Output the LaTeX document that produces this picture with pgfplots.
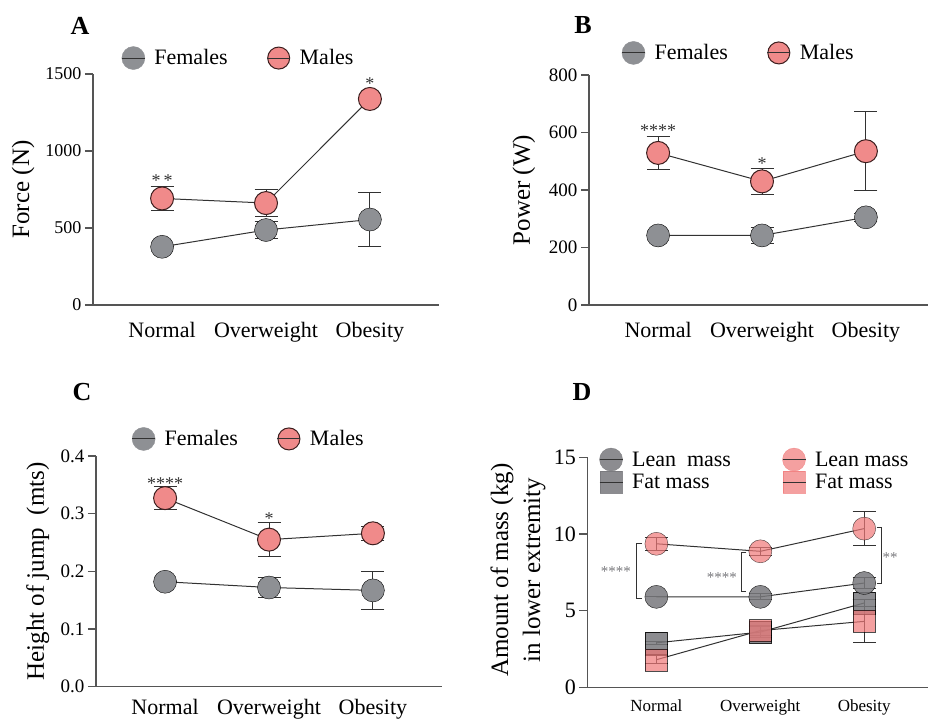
\documentclass[border=0pt]{standalone}
\usepackage{fontspec}
\setmainfont{Liberation Serif}
\usepackage{pgfplots}
\pgfplotsset{compat=1.18}
\definecolor{fgray}{RGB}{142,144,148}
\definecolor{fred}{RGB}{240,138,138}
\definecolor{mdark}{RGB}{60,30,30}
\definecolor{ldark}{RGB}{50,50,50}
\definecolor{axgray}{RGB}{85,85,85}
\definecolor{dgray}{RGB}{120,120,124}
\definecolor{dred}{RGB}{240,120,120}
\newcommand{\fs}[1]{\fontsize{#1}{#1}\selectfont}
\tikzset{sigstar/.style={anchor=base, yshift=-9pt, font=\fs{18}, text=ldark}}

\pgfplotsset{
 base/.style={
  scale only axis, axis lines=left, axis line style={-, line width=1.4pt, color=axgray},
  xmin=-0.665, xmax=2.665, width=346pt, xtick={0,1,2}, xticklabels={Normal,Overweight,Obesity},
  xtick style={draw=none}, ytick style={line width=1.4pt, color=axgray},
  tick align=outside, major tick length=8pt,
  /pgf/number format/assume math mode=true,
  /pgf/number format/1000 sep={},
  clip=false,
  legend columns=2,
  legend cell align=left,
  legend style={draw=none, fill=none, inner sep=0pt, outer sep=0pt, anchor=west, font=\fs{22},
    /tikz/every odd column/.append style={column sep=7pt},
    /tikz/every even column/.append style={column sep=37pt}},
  xticklabel style={font=\fs{22}, yshift=-6pt},
  y label style={anchor=center, font=\fs{25}},
 },
 fline/.style={ldark, line width=1pt, mark=none, forget plot,
   error bars/y dir=both, error bars/y explicit,
   error bars/error bar style={line width=1pt, color=ldark},
   error bars/error mark options={rotate=90, mark size=11.5pt, line width=1pt, color=ldark}},
 fmark/.style={only marks, mark=*, mark size=11.5pt, forget plot, mark options={fill=fgray, draw=none}},
 mmark/.style={only marks, mark=*, mark size=11.5pt, forget plot, mark options={fill=fred, draw=mdark, line width=1pt}},
 legF/.style={legend image code/.code={\fill[fgray] (11.5pt,0pt) circle[radius=11.5pt]; \draw[ldark, line width=1pt] (0pt,0pt)--(23pt,0pt);}},
 legM/.style={legend image code/.code={\draw[fill=fred, draw=mdark, line width=1pt] (11.5pt,0pt) circle[radius=11pt]; \draw[ldark, line width=1pt] (0pt,0pt)--(23pt,0pt);}},
}

\begin{document}
\begin{tikzpicture}
\useasboundingbox (0pt,0pt) rectangle (928pt,-720pt);

% ---------------- A ----------------
\begin{axis}[base, at={(93pt,-305pt)}, anchor=south west, height=231pt,
  ymin=0, ymax=1500, ytick={0,500,1000,1500}, yticklabel style={font=\fs{18}},
  ylabel={Force (N)}, y label style={at={(axis description cs:-0.202,0.5)}},
  legend style={at={(axis description cs:0.082,1.069)}}]
\addlegendimage{legF}\addlegendentry{Females}
\addlegendimage{legM}\addlegendentry{Males}
\addplot[fmark] coordinates {(0,378) (1,487) (2,555)};
\addplot[fline] coordinates {(0,378) +- (0,0) (1,487) +- (0,57) (2,555) +- (0,175)};
\addplot[mmark] coordinates {(0,692) (1,662) (2,1338)};
\addplot[fline] coordinates {(0,692) +- (0,80) (1,662) +- (0,85) (2,1338) +- (0,0)};
\node[sigstar] at (axis cs:0,825) {*\,*};
\node[sigstar] at (axis cs:2,1461) {*};
\end{axis}

% ---------------- B ----------------
\begin{axis}[base, at={(589pt,-305pt)}, anchor=south west, height=230pt,
  ymin=0, ymax=800, ytick={0,200,400,600,800}, yticklabel style={font=\fs{19}},
  ylabel={Power (W)}, y label style={at={(axis description cs:-0.188,0.5)}},
  legend style={at={(axis description cs:0.094,1.096)}}]
\addlegendimage{legF}\addlegendentry{Females}
\addlegendimage{legM}\addlegendentry{Males}
\addplot[fmark] coordinates {(0,242) (1,242) (2,305)};
\addplot[fline] coordinates {(0,242) +- (0,0) (1,242) +- (0,28) (2,305) +- (0,13)};
\addplot[mmark] coordinates {(0,529) (1,430) (2,535)};
\addplot[fline] coordinates {(0,529) +- (0,58) (1,430) +- (0,46) (2,535) +- (0,137)};
\node[sigstar] at (axis cs:0,619) {****};
\node[sigstar] at (axis cs:1,504) {*};
\end{axis}

% ---------------- C ----------------
\begin{axis}[base, at={(96pt,-686.7pt)}, anchor=south west, height=230.7pt,
  ymin=0, ymax=0.4, ytick={0,0.1,0.2,0.3,0.4}, yticklabel style={font=\fs{19}, /pgf/number format/.cd, fixed, fixed zerofill, precision=1},
  xticklabel style={yshift=5pt},
  ylabel={Height of jump\ \ (mts)}, y label style={at={(axis description cs:-0.168,0.5)}},
  legend style={at={(axis description cs:0.103,1.074)}}]
\addlegendimage{legF}\addlegendentry{Females}
\addlegendimage{legM}\addlegendentry{Males}
\addplot[fmark] coordinates {(0,0.182) (1,0.172) (2,0.167)};
\addplot[fline] coordinates {(0,0.182) +- (0,0) (1,0.172) +- (0,0.018) (2,0.167) +- (0,0.033)};
\addplot[mmark] coordinates {(0,0.327) (1,0.255) (2,0.266)};
\addplot[fline] coordinates {(0,0.327) +- (0,0.02) (1,0.255) +- (0,0.029) (2,0.266) +- (0,0.012)};
\node[sigstar] at (axis cs:0,0.358) {****};
\node[sigstar] at (axis cs:1,0.296) {*};
\end{axis}

% ---------------- D ----------------
\begin{axis}[base, at={(587.3pt,-687.3pt)}, anchor=south west, height=230pt,
  ymin=0, ymax=15, ytick={0,5,10,15}, yticklabel style={font=\fs{22}},
  xticklabel style={font=\fs{17}, yshift=5pt},
  ylabel={Amount of mass (kg)\\in lower extremity},
  y label style={at={(axis description cs:-0.2,0.51)}, align=center, font=\fontsize{25}{32}\selectfont},
  legend style={at={(axis description cs:0.034,1.041)}, anchor=north west,
    /tikz/every even column/.append style={column sep=49pt}},
  ]
\addlegendimage{legend image code/.code={\fill[dgray, opacity=0.85] (11.5pt,0pt) circle[radius=11.5pt]; \draw[ldark, line width=1pt] (0pt,0pt)--(23pt,0pt);}}
\addlegendentry{Lean\ \ mass}
\addlegendimage{legend image code/.code={\fill[dred, opacity=0.7] (11.5pt,0pt) circle[radius=11.5pt]; \draw[ldark, line width=1pt] (0pt,0pt)--(23pt,0pt);}}
\addlegendentry{Lean mass}
\addlegendimage{legend image code/.code={\fill[dgray, opacity=0.85] (0.5pt,-11pt) rectangle (22.5pt,11pt); \draw[ldark, line width=1pt] (0pt,0pt)--(23pt,0pt);}}
\addlegendentry{Fat mass}
\addlegendimage{legend image code/.code={\fill[dred, opacity=0.7] (0.5pt,-11pt) rectangle (22.5pt,11pt); \draw[ldark, line width=1pt] (0pt,0pt)--(23pt,0pt);}}
\addlegendentry{Fat mass}
% squares (fat mass)
\addplot[only marks, mark=square*, mark size=11pt, forget plot, mark options={fill=dgray, draw=none, opacity=0.85}] coordinates {(0,2.9) (1,3.6) (2,5.5)};
\addplot[only marks, mark=square*, mark size=11pt, forget plot, mark options={fill=dred, draw=none, opacity=0.7}] coordinates {(0,1.8) (1,3.7) (2,4.3)};
% circles (lean mass)
\addplot[only marks, mark=*, mark size=11.5pt, forget plot, mark options={fill=dgray, draw=none, opacity=0.85}] coordinates {(0,5.9) (1,5.9) (2,6.8)};
\addplot[only marks, mark=*, mark size=11.5pt, forget plot, mark options={fill=dred, draw=none, opacity=0.7}] coordinates {(0,9.36) (1,8.87) (2,10.35)};
% lines and error bars
\addplot[fline] coordinates {(0,2.9) +- (0,0.1) (1,3.6) +- (0,0.35) (2,5.5) +- (0,0.25)};
\addplot[fline] coordinates {(0,1.8) +- (0,0.25) (1,3.7) +- (0,0.3) (2,4.3) +- (0,1.4)};
\addplot[fline] coordinates {(0,5.9) +- (0,0) (1,5.9) +- (0,0.2) (2,6.8) +- (0,0.35)};
\addplot[fline] coordinates {(0,9.36) +- (0,0.42) (1,8.87) +- (0,0.25) (2,10.35) +- (0,1.1)};
% significance brackets
\draw[ldark, line width=1pt] (axis cs:-0.14,9.36) -- (axis cs:-0.19,9.36) -- (axis cs:-0.19,5.8) -- (axis cs:-0.14,5.8);
\draw[ldark, line width=1pt] (axis cs:0.865,8.78) -- (axis cs:0.817,8.78) -- (axis cs:0.817,6.22) -- (axis cs:0.865,6.22);
\draw[ldark, line width=1pt] (axis cs:2.122,10.45) -- (axis cs:2.17,10.45) -- (axis cs:2.17,6.8) -- (axis cs:2.122,6.8);
\node[font=\fs{15}, text=dgray, anchor=base, yshift=-7.5pt] at (axis cs:-0.39,7.74) {****};
\node[font=\fs{15}, text=dgray, anchor=base, yshift=-7.5pt] at (axis cs:0.63,7.3) {****};
\node[font=\fs{15}, text=dgray, anchor=base, yshift=-7.5pt] at (axis cs:2.25,8.65) {**};
\end{axis}

% panel letters
\node[font=\bfseries\fs{26}] at (80pt,-26pt) {A};
\node[font=\bfseries\fs{26}] at (583pt,-25pt) {B};
\node[font=\bfseries\fs{26}] at (82pt,-392pt) {C};
\node[font=\bfseries\fs{26}] at (582pt,-392pt) {D};
\end{tikzpicture}
\end{document}
